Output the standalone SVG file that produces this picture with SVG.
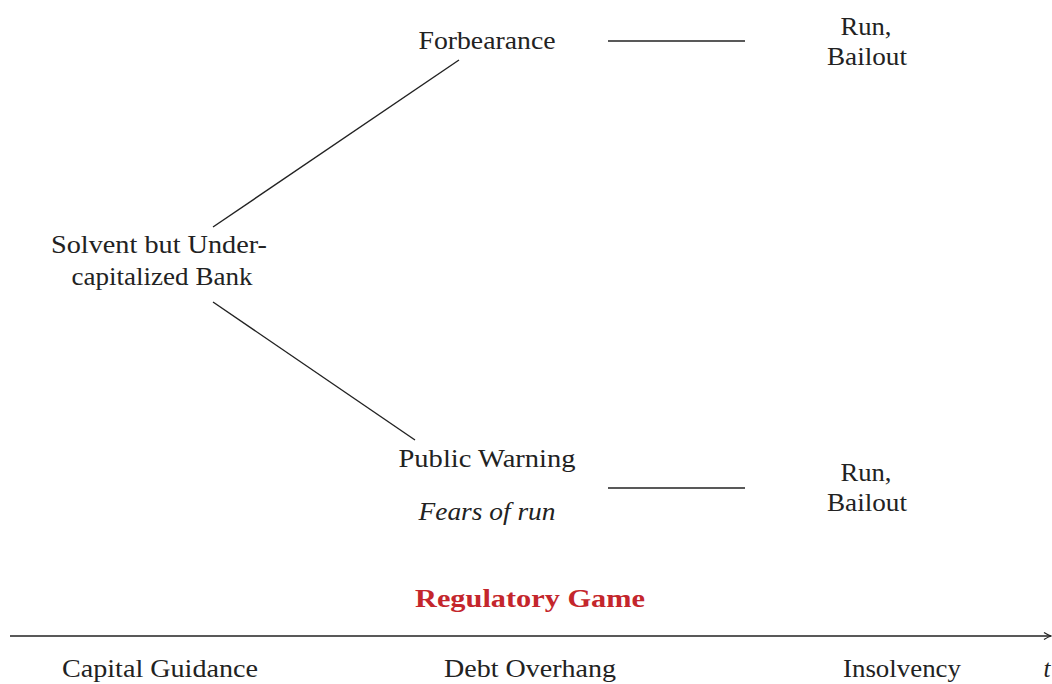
<svg xmlns="http://www.w3.org/2000/svg" width="1052" height="684" viewBox="0 0 1052 684">
  <style>
    text { font-family: "Liberation Serif", "DejaVu Serif", serif; font-size: 25px; fill: #222; text-anchor: middle; }
    .it { font-style: italic; }
    .title { font-weight: bold; fill: #c4262c; }
    .edge { stroke: #222; stroke-width: 1.4; fill: none; }
  </style>
  <defs>
    <marker id="tip" markerWidth="10" markerHeight="10" refX="8" refY="5" orient="auto" markerUnits="userSpaceOnUse">
      <path d="M1,1.5 Q5,4 8,5 Q5,6 1,8.5" fill="none" stroke="#222" stroke-width="1.3"/>
    </marker>
  </defs>
  <rect width="1052" height="684" fill="#fff"/>

  <g id="connectors">
    <line class="edge" x1="213" y1="227" x2="459" y2="60"/>
    <line class="edge" x1="213" y1="302" x2="415" y2="440"/>
    <line class="edge" x1="608" y1="41" x2="745" y2="41"/>
    <line class="edge" x1="608" y1="488" x2="745" y2="488"/>
    <line class="edge" x1="10" y1="636" x2="1051" y2="636" marker-end="url(#tip)"/>
  </g>

  <g id="bank">
    <text x="159" y="253" textLength="216" lengthAdjust="spacingAndGlyphs">Solvent but Under-</text>
    <text x="162" y="285" textLength="181" lengthAdjust="spacingAndGlyphs">capitalized Bank</text>
  </g>
  <g id="forbearance">
    <text x="487" y="49" textLength="137" lengthAdjust="spacingAndGlyphs">Forbearance</text>
  </g>
  <g id="run-top">
    <text x="866" y="35" textLength="51" lengthAdjust="spacingAndGlyphs">Run,</text>
    <text x="867" y="65" textLength="80" lengthAdjust="spacingAndGlyphs">Bailout</text>
  </g>
  <g id="warning">
    <text x="487" y="467" textLength="177" lengthAdjust="spacingAndGlyphs">Public Warning</text>
    <text class="it" x="487" y="520" textLength="137" lengthAdjust="spacingAndGlyphs">Fears of run</text>
  </g>
  <g id="run-bottom">
    <text x="866" y="481" textLength="51" lengthAdjust="spacingAndGlyphs">Run,</text>
    <text x="867" y="511" textLength="80" lengthAdjust="spacingAndGlyphs">Bailout</text>
  </g>
  <g id="game">
    <text class="title" x="530" y="607" textLength="230" lengthAdjust="spacingAndGlyphs">Regulatory Game</text>
  </g>
  <g id="timeline">
    <text x="160" y="677" textLength="196" lengthAdjust="spacingAndGlyphs">Capital Guidance</text>
    <text x="530" y="677" textLength="172" lengthAdjust="spacingAndGlyphs">Debt Overhang</text>
    <text x="902" y="677" textLength="118" lengthAdjust="spacingAndGlyphs">Insolvency</text>
    <text class="it" x="1047" y="677">t</text>
  </g>
</svg>
